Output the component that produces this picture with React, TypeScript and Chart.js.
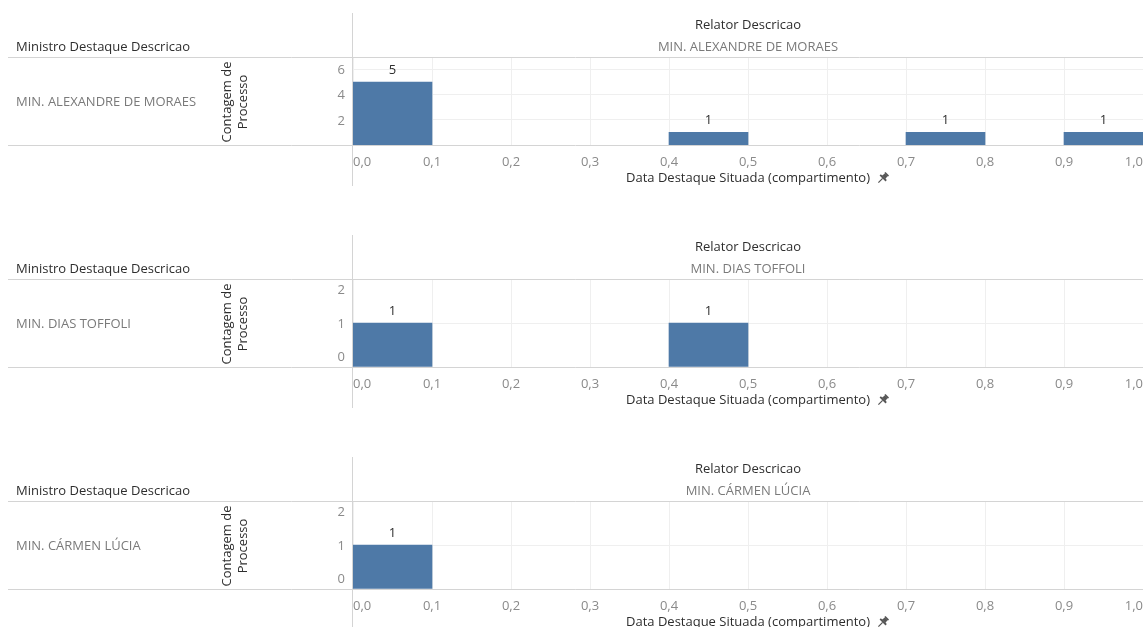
import React, { useEffect, useRef } from "react";
import { Chart, registerables } from "chart.js";

Chart.register(...registerables);

// ---------------- data ----------------
const rowHeader = "Ministro Destaque Descricao";
const colHeader = "Relator Descricao";
const yAxisTitle = ["Contagem de", "Processo"];
const xAxisTitle = "Data Destaque Situada (compartimento)";

const ministros = ["MIN. ALEXANDRE DE MORAES", "MIN. DIAS TOFFOLI", "MIN. CÁRMEN LÚCIA"];
const relatores = ["MIN. ALEXANDRE DE MORAES", "MIN. DIAS TOFFOLI", "MIN. CÁRMEN LÚCIA"];

const binStarts = [0.0, 0.1, 0.2, 0.3, 0.4, 0.5, 0.6, 0.7, 0.8, 0.9];
const binWidth = 0.1;

const countsMoraes = [5, 0, 0, 0, 1, 0, 0, 1, 0, 1];
const countsToffoli = [1, 0, 0, 0, 1, 0, 0, 0, 0, 0];
const countsCarmen = [1, 0, 0, 0, 0, 0, 0, 0, 0, 0];

const xTickLabels = ["0,0", "0,1", "0,2", "0,3", "0,4", "0,5", "0,6", "0,7", "0,8", "0,9", "1,0"];

const yMaxMoraes = 7;
const yMaxToffoli = 2;
const yMaxCarmen = 2;

const yTicksMoraes = [2, 4, 6];
const yTicksToffoli = [0, 1, 2];
const yTicksCarmen = [0, 1, 2];

const panelCounts = [countsMoraes, countsToffoli, countsCarmen];
const panelYMax = [yMaxMoraes, yMaxToffoli, yMaxCarmen];
const panelYTicks = [yTicksMoraes, yTicksToffoli, yTicksCarmen];

// ---------------- style ----------------
const FONT = "'Open Sans', 'DejaVu Sans', sans-serif";
const W = 1143;
const H = 222;
const BAR = "#4e79a7";
const LINE = "#d4d4d4";
const GRID = "#efefef";
const DARK = "#2e2e2e";
const GRAY = "#7a7a7a";
const TICK = "#8a8a8a";

function drawPin(ctx: CanvasRenderingContext2D, x: number, y: number) {
  ctx.save();
  ctx.translate(x, y);
  ctx.rotate(Math.PI / 4);
  ctx.fillStyle = "#555";
  ctx.strokeStyle = "#555";
  ctx.fillRect(-2.5, -6, 5, 1.6);
  ctx.beginPath();
  ctx.moveTo(-1.8, -4.6);
  ctx.lineTo(1.8, -4.6);
  ctx.lineTo(2.4, -1);
  ctx.lineTo(-2.4, -1);
  ctx.closePath();
  ctx.fill();
  ctx.fillRect(-4.2, -1.2, 8.4, 1.8);
  ctx.lineWidth = 1.2;
  ctx.beginPath();
  ctx.moveTo(0, 0.5);
  ctx.lineTo(0, 6.5);
  ctx.stroke();
  ctx.restore();
}

function Panel({ index }: { index: number }) {
  const ref = useRef<HTMLCanvasElement | null>(null);

  useEffect(() => {
    const canvas = ref.current;
    if (!canvas) return;
    const counts = panelCounts[index];
    const yTicks = panelYTicks[index];

    const decor = {
      id: "decor",
      afterDraw(chart: any) {
        const { ctx, chartArea } = chart;
        const ca = chartArea;
        const ys = chart.scales.y;
        const midX = (ca.left + ca.right) / 2;
        const midY = (ca.top + ca.bottom) / 2 + 1;
        ctx.save();
        // frame lines
        ctx.strokeStyle = LINE;
        ctx.lineWidth = 1;
        ctx.beginPath();
        ctx.moveTo(ca.left - 0.5, 13);
        ctx.lineTo(ca.left - 0.5, 186);
        ctx.moveTo(8, ca.top + 0.5);
        ctx.lineTo(W, ca.top + 0.5);
        ctx.moveTo(8, ca.bottom + 0.5);
        ctx.lineTo(W, ca.bottom + 0.5);
        ctx.stroke();

        ctx.textBaseline = "middle";
        // headers
        ctx.font = `13px ${FONT}`;
        ctx.fillStyle = DARK;
        ctx.textAlign = "left";
        ctx.fillText(rowHeader, 16, 47);
        ctx.textAlign = "center";
        ctx.fillText(colHeader, midX, 25);
        ctx.fillStyle = GRAY;
        ctx.fillText(relatores[index], midX, 47);
        // row label
        ctx.textAlign = "left";
        ctx.fillText(ministros[index], 16, midY);

        // y axis title (rotated, two lines)
        ctx.save();
        ctx.translate(235, midY);
        ctx.rotate(-Math.PI / 2);
        ctx.fillStyle = DARK;
        ctx.textAlign = "center";
        ctx.fillText(yAxisTitle[0], 0, -8);
        ctx.fillText(yAxisTitle[1], 0, 8);
        ctx.restore();

        // y tick labels (kept inside the pane like the original)
        ctx.fillStyle = TICK;
        ctx.textAlign = "right";
        yTicks.forEach((v) => {
          let py = ys.getPixelForValue(v) + 1;
          py = Math.max(ca.top + 11, Math.min(ca.bottom - 10, py));
          ctx.fillText(String(v), ca.left - 8, py);
        });

        // data labels
        ctx.fillStyle = DARK;
        ctx.textAlign = "center";
        const meta = chart.getDatasetMeta(0);
        const ds = chart.data.datasets[0].data as any[];
        meta.data.forEach((el: any, i: number) => {
          ctx.fillText(String(ds[i].y), el.x, el.y - 12);
        });

        // pin next to x title
        const tw = ctx.measureText(xAxisTitle).width;
        drawPin(ctx, midX + tw / 2 + 13, 178);
        ctx.restore();
      },
    };

    const points = binStarts
      .map((b, i) => ({ x: b + binWidth / 2, y: counts[i] }))
      .filter((p) => p.y > 0);

    const chart = new Chart(canvas, {
      type: "bar",
      data: {
        datasets: [
          {
            data: points,
            backgroundColor: BAR,
            borderWidth: 0,
            barPercentage: 1,
            categoryPercentage: 1,
          },
        ],
      },
      options: {
        animation: false,
        responsive: false,
        maintainAspectRatio: false,
        layout: { padding: { top: 57, left: 0, right: 0, bottom: 0 } },
        plugins: { legend: { display: false }, tooltip: { enabled: false } },
        scales: {
          x: {
            type: "linear",
            min: 0,
            max: 1,
            offset: false,
            grid: { color: GRID, drawTicks: false, offset: false },
            border: { display: false },
            ticks: {
              stepSize: 0.1,
              align: "inner",
              maxRotation: 0,
              minRotation: 0,
              padding: 9,
              color: TICK,
              font: { family: FONT, size: 13 },
              callback: (_v: any, i: number) => xTickLabels[i],
            },
            title: {
              display: true,
              text: xAxisTitle,
              color: DARK,
              font: { family: FONT, size: 13 },
              padding: { top: 0, bottom: 36 },
            },
            afterFit: (s: any) => {
              s.height = H - 145;
              s.paddingLeft = 0;
              s.paddingRight = 0;
            },
          },
          y: {
            min: 0,
            max: panelYMax[index],
            grid: { color: GRID, drawTicks: false },
            border: { display: false },
            ticks: { display: false },
            afterBuildTicks: (s: any) => {
              s.ticks = yTicks.map((v) => ({ value: v }));
            },
            afterFit: (s: any) => {
              s.width = 353;
              s.paddingTop = 0;
              s.paddingBottom = 0;
            },
          },
        },
      } as any,
      plugins: [decor],
    });
    return () => chart.destroy();
  }, [index]);

  return (
    <canvas
      ref={ref}
      width={W}
      height={H}
      style={{ position: "absolute", left: 0, top: index * H, width: W, height: H, display: "block" }}
    />
  );
}

export default function App() {
  return (
    <div
      style={{
        position: "fixed",
        left: 0,
        top: 0,
        width: W,
        height: 627,
        overflow: "hidden",
        background: "#ffffff",
      }}
    >
      {ministros.map((_m, i) => (
        <Panel key={i} index={i} />
      ))}
    </div>
  );
}
